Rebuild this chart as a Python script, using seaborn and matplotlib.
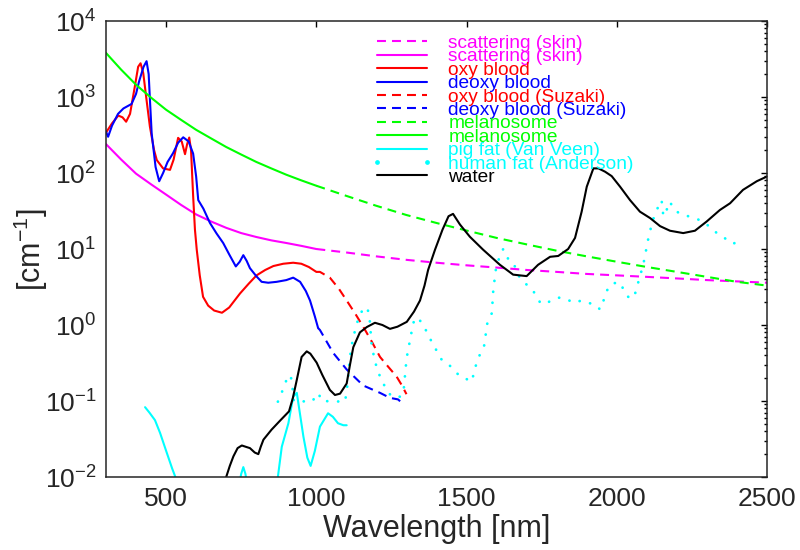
import numpy as np
import matplotlib
matplotlib.use("Agg")
import matplotlib.pyplot as plt
from matplotlib.lines import Line2D
import pandas as pd
import seaborn as sns

# scattering (skin)
scat_nm = [300, 350, 400, 450, 500, 550, 600, 650, 700, 750, 800, 850, 900, 950, 1000]
scat_mu = [240, 151, 98, 71, 52, 38, 28.5, 23, 19, 16.2, 14.4, 13, 12, 11, 10]
scat2_nm = [1000, 1100, 1200, 1300, 1400, 1500, 1600, 1700, 1800, 1900, 2000, 2100, 2200, 2300, 2400, 2500]
scat2_mu = [10, 9, 8, 7.2, 6.6, 6.1, 5.7, 5.3, 5.0, 4.7, 4.5, 4.3, 4.1, 3.9, 3.75, 3.6]

# oxy / deoxy blood
oxy_nm = [300, 320, 341, 355, 367, 380, 396, 407, 415, 424, 435, 446, 460, 469, 490, 513, 525, 540, 552,
          563, 570, 577, 583, 590, 596, 602, 612, 623, 640, 660, 686, 710, 746, 775, 801, 830, 857, 890,
          923, 950, 975, 1000]
oxy_mu = [340, 450, 570, 540, 473, 600, 1380, 2500, 2780, 2060, 910, 410, 200, 148, 115, 110, 150, 290, 260,
          177, 240, 293, 200, 50, 18, 9.8, 4.5, 2.35, 1.8, 1.55, 1.45, 1.7, 2.6, 3.5, 4.5, 5.3, 5.97, 6.4,
          6.6, 6.4, 5.8, 5.0]
deoxy_nm = [300, 307, 320, 340, 358, 385, 400, 410, 425, 435, 442, 447, 452, 465, 477, 490, 505, 523, 540,
            557, 575, 590, 600, 607, 624, 646, 668, 690, 710, 732, 745, 757, 768, 779, 800, 818, 840, 868,
            900, 923, 946, 965, 979, 995, 1006]
deoxy_mu = [350, 300, 420, 600, 707, 810, 1100, 1600, 2500, 2960, 2000, 800, 331, 120, 78, 100, 140, 182, 250,
            295, 260, 180, 90, 44, 34, 22, 16, 12, 8.5, 5.9, 6.8, 8.3, 7, 5.6, 4.4, 3.7, 3.6, 3.7,
            3.9, 4.2, 3.7, 2.8, 2.1, 1.3, 0.91]
oxys_nm = [1000, 1012, 1045, 1075, 1101, 1130, 1156, 1185, 1212, 1240, 1267, 1285, 1300]
oxys_mu = [5.0, 5.0, 4.2, 3.0, 2.1, 1.4, 0.95, 0.6, 0.38, 0.28, 0.21, 0.16, 0.123]
deoxys_nm = [1006, 1012, 1056, 1101, 1156, 1212, 1245, 1272, 1292]
deoxys_mu = [0.91, 0.86, 0.43, 0.26, 0.16, 0.128, 0.11, 0.105, 0.089]

# melanosome
mel_nm = [300, 350, 400, 450, 500, 550, 600, 650, 700, 750, 800, 850, 900, 950, 1000]
mel_mu = [3800, 2300, 1450, 980, 680, 500, 370, 285, 220, 175, 140, 115, 95, 80, 68]
mel2_nm = [1000, 1100, 1200, 1300, 1400, 1500, 1600, 1700, 1800, 1900, 2000, 2100, 2200, 2300, 2400, 2500]
mel2_mu = [68, 50, 37, 28, 22, 17.5, 14, 11.5, 9.5, 8, 6.8, 5.8, 5.0, 4.3, 3.7, 3.3]

# fat
pig_nm = [430, 445, 463, 480, 502, 520, 533, 550, 600, 700, 740, 750, 757, 764, 775, 820, 860, 872, 885,
          907, 923, 935, 957, 970, 981, 995, 1012, 1039, 1055, 1072, 1090, 1101]
pig_mu = [0.083, 0.07, 0.056, 0.038, 0.021, 0.013, 0.0095, 0.006, 0.003, 0.004, 0.007, 0.011, 0.0135, 0.011,
          0.006, 0.003, 0.005, 0.01, 0.025, 0.051, 0.114, 0.128, 0.034, 0.018, 0.014, 0.022, 0.046, 0.069,
          0.062, 0.051, 0.048, 0.048]
hum_nm = [872, 880, 890, 903, 912, 918, 925, 985, 1007, 1018, 1095, 1101, 1112, 1118, 1129, 1140, 1151, 1162,
          1170, 1176, 1184, 1195, 1210, 1223, 1234, 1251, 1279, 1290, 1298, 1304, 1312, 1321, 1328, 1339,
          1356, 1384, 1417, 1450, 1478, 1506, 1517, 1536, 1558, 1569, 1584, 1589, 1598, 1611, 1622, 1634,
          1645, 1656, 1678, 1700, 1722, 1744, 1761, 1789, 1811, 1833, 1855, 1883, 1911, 1933, 1944, 1955,
          1966, 1983, 2000, 2016, 2022, 2044, 2061, 2075, 2088, 2105, 2116, 2127, 2138, 2149, 2155, 2171,
          2177, 2188, 2210, 2238, 2266, 2294, 2321, 2344, 2366, 2388, 2405]
hum_mu = [0.098, 0.114, 0.147, 0.2, 0.22, 0.19, 0.1, 0.098, 0.127, 0.1, 0.098, 0.13, 0.38, 0.55, 0.86, 1.22,
          1.5, 1.74, 1.6, 1.43, 0.55, 0.33, 0.22, 0.17, 0.14, 0.114, 0.114, 0.13, 0.29, 0.45, 0.63, 1.0,
          1.23, 1.23, 1.0, 0.6, 0.35, 0.28, 0.21, 0.19, 0.18, 0.35, 0.52, 1.05, 1.43, 2.9, 5.6, 8.2, 10,
          7.9, 6.8, 6.5, 4.1, 3.4, 2.8, 2.0, 1.87, 2.2, 2.3, 2.2, 1.96, 2.1, 1.93, 1.8, 1.6, 2.05, 2.8,
          3.5, 3.6, 3.5, 2.8, 2.2, 2.6, 4.1, 6.2, 13.8, 21, 29, 36, 44, 27, 36, 42, 34, 29, 27, 25, 22,
          17.7, 15, 13.4, 11.7, 13]

# water
wat_nm = [700, 712, 724, 738, 752, 765, 779, 795, 807, 815, 824, 851, 879, 909, 922, 935, 951, 968, 980,
          1001, 1020, 1045, 1062, 1079, 1101, 1112, 1123, 1145, 1168, 1195, 1220, 1245, 1270, 1301, 1325,
          1345, 1360, 1372, 1395, 1420, 1440, 1455, 1478, 1511, 1555, 1611, 1655, 1700, 1738, 1778, 1805,
          1838, 1861, 1883, 1900, 1922, 1939, 1961, 1983, 2011, 2044, 2077, 2111, 2144, 2177, 2221, 2260,
          2299, 2343, 2377, 2420, 2466, 2500]
wat_mu = [0.01, 0.014, 0.0187, 0.024, 0.026, 0.025, 0.024, 0.021, 0.020, 0.025, 0.031, 0.042, 0.055, 0.073,
          0.11, 0.19, 0.38, 0.45, 0.42, 0.32, 0.22, 0.14, 0.12, 0.125, 0.17, 0.3, 0.51, 0.8, 0.94, 1.07,
          1.0, 0.89, 0.95, 1.1, 1.5, 2.1, 3.3, 5.3, 9.8, 18, 27, 29, 21, 14.5, 9.8, 6.2, 4.6, 4.4, 6.2,
          7.9, 8.1, 10, 14, 31, 66, 115, 115, 104, 91, 66, 44, 31, 25.5, 20, 17.4, 16.2, 17.4, 23, 32.6,
          40, 60, 78, 90]

x_ticks = [500, 1000, 1500, 2000, 2500]
y_ticks = [1e-2, 1e-1, 1e0, 1e1, 1e2, 1e3, 1e4]

sns.set_style("white")
plt.rcParams["font.family"] = ["Liberation Sans", "DejaVu Sans"]
plt.rcParams["mathtext.fontset"] = "custom"
plt.rcParams["mathtext.rm"] = "Liberation Sans"
plt.rcParams["mathtext.it"] = "Liberation Sans:italic"
plt.rcParams["axes.unicode_minus"] = False

MAG, RED, BLUE, GRN, CYN = "#ff00ff", "#ff0000", "#0000ff", "#00ff00", "#00ffff"
LW = 1.5
DASH = (0, (4.3, 2.9))
DOT = (0, (0.05, 3.9))

fig = plt.figure(figsize=(8, 5.5), dpi=100)
ax = fig.add_axes([0.1325, 0.1327, 0.8263, 0.8291])

series = [
    (scat2_nm, scat2_mu, MAG, DASH, "scattering (skin)"),
    (scat_nm, scat_mu, MAG, "-", "scattering (skin)"),
    (oxy_nm, oxy_mu, RED, "-", "oxy blood"),
    (deoxy_nm, deoxy_mu, BLUE, "-", "deoxy blood"),
    (oxys_nm, oxys_mu, RED, DASH, "oxy blood (Suzaki)"),
    (deoxys_nm, deoxys_mu, BLUE, DASH, "deoxy blood (Suzaki)"),
    (mel2_nm, mel2_mu, GRN, DASH, "melanosome"),
    (mel_nm, mel_mu, GRN, "-", "melanosome"),
    (pig_nm, pig_mu, CYN, "-", "pig fat (Van Veen)"),
    (hum_nm, hum_mu, CYN, DOT, "human fat (Anderson)"),
    (wat_nm, wat_mu, "black", "-", "water"),
]

handles = []
for xs, ys, col, ls, lab in series:
    df = pd.DataFrame({"nm": xs, "mu": ys})
    sns.lineplot(data=df, x="nm", y="mu", ax=ax, color=col, linestyle=ls, lw=LW,
                 sort=False, estimator=None, label=lab, legend=False)
    ln = ax.get_lines()[-1]
    if ls == DOT:
        ln.set_dash_capstyle("round")
        ln.set_linewidth(2.0)
        # legend shows just the two end dots, like the original
        ln = Line2D([], [], color=col, linestyle="None", marker="o", markersize=2.4, label=lab)
    handles.append(ln)

ax.set_yscale("log")
ax.set_xlim(300, 2500)
ax.set_ylim(1e-2, 1e4)
ax.set_xticks(x_ticks)
ax.set_yticks(y_ticks)
ax.yaxis.set_minor_locator(matplotlib.ticker.LogLocator(base=10, subs=np.arange(2, 10), numticks=20))
ax.tick_params(which="both", direction="in", top=True, right=True, width=1.0, colors="black",
               labelsize=19, labelcolor="#262626")
ax.tick_params(which="major", length=4.3, pad=7)
ax.tick_params(which="minor", length=2.2)
ax.xaxis.set_minor_locator(matplotlib.ticker.NullLocator())
for sp in ax.spines.values():
    sp.set_linewidth(1.1)
    sp.set_color("#262626")

ax.set_xlabel("Wavelength [nm]", fontsize=22, color="#262626", labelpad=2)
ax.set_ylabel("[cm$^{-1}$]", fontsize=22, color="#262626", labelpad=-4)

leg = ax.legend(handles=handles, loc="upper left", bbox_to_anchor=(0.402, 0.970), frameon=False,
                fontsize=13.8, labelspacing=-0.21, handlelength=3.18, handletextpad=0.82,
                borderpad=0, borderaxespad=0, numpoints=2)
for txt, ln in zip(leg.get_texts(), handles):
    txt.set_color(ln.get_color())

fig.savefig("out.png", dpi=100)
